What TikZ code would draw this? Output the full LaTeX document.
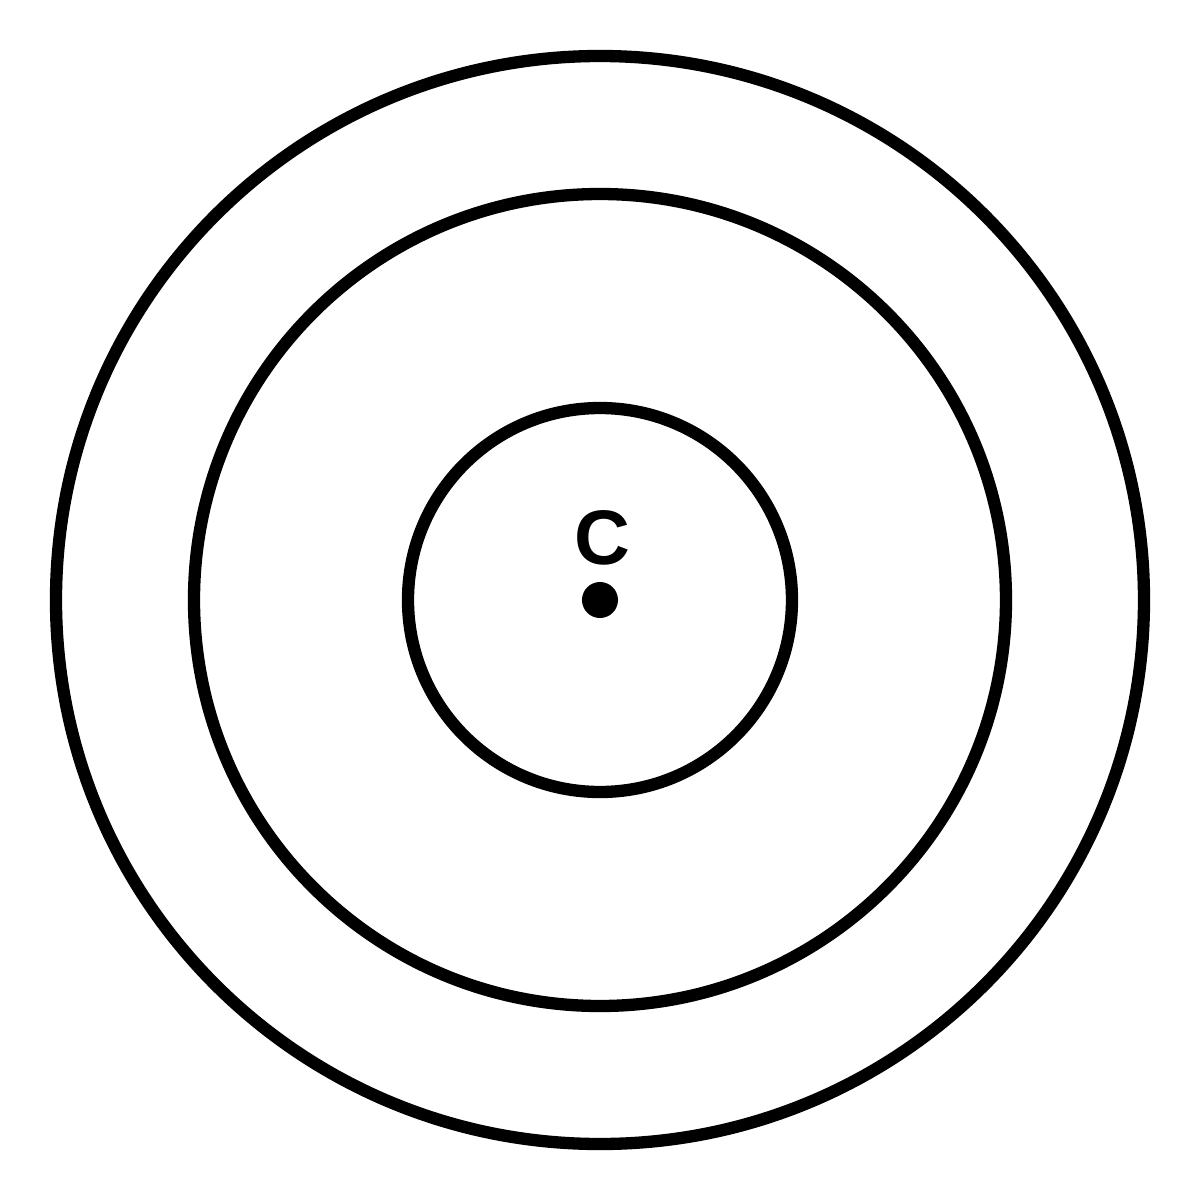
\documentclass[tikz,border=0pt]{standalone}
\usepackage{fontspec}
\setmainfont{Liberation Sans}
\usetikzlibrary{positioning}

\begin{document}
\begin{tikzpicture}[scale=1, ring/.style={draw, line width=3.5pt}]
\useasboundingbox (-6,-6) rectangle (6,6);
\coordinate (centre) at (0,0);
\draw [ring] (centre) circle (5.44);
\draw [ring] (centre) circle (4.06);
\draw [ring] (centre) circle (1.92);
\fill (centre) circle (0.18);
\node [font=\fontsize{22}{26}\selectfont\bfseries] (label) at (0.02,0.62) {C};
\end{tikzpicture}
\end{document}
